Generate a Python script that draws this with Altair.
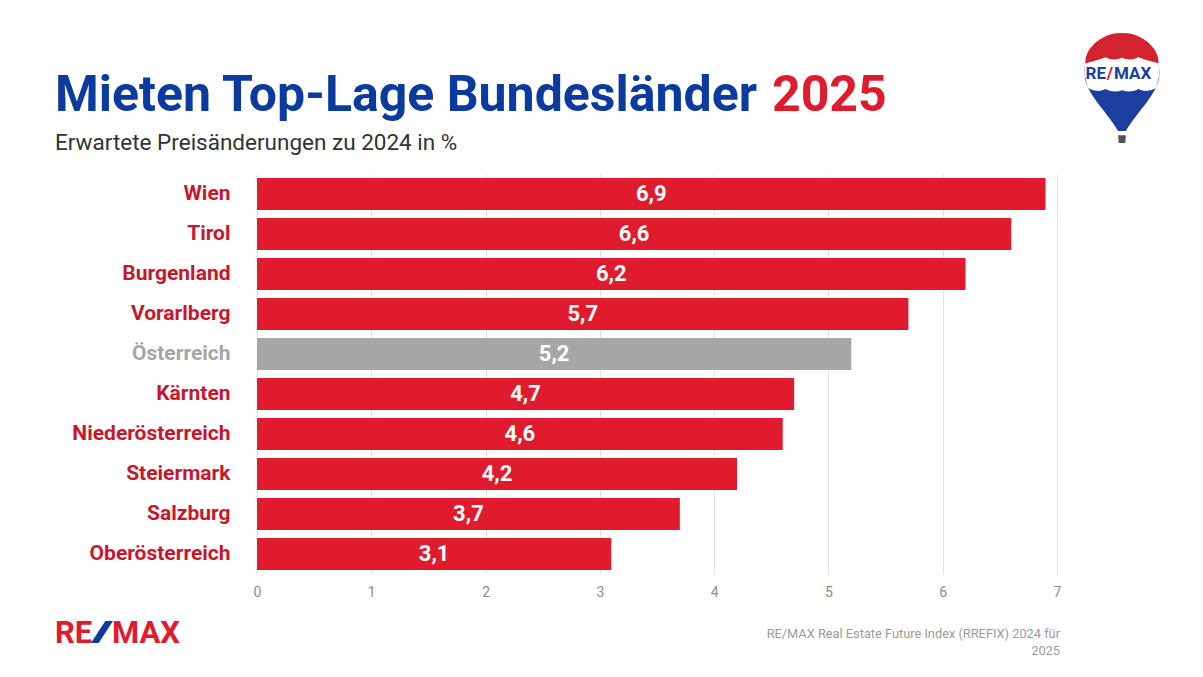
import altair as alt
import pandas as pd

categories = ["Wien", "Tirol", "Burgenland", "Vorarlberg", "Österreich", "Kärnten",
              "Niederösterreich", "Steiermark", "Salzburg", "Oberösterreich"]
values = [6.9, 6.6, 6.2, 5.7, 5.2, 4.7, 4.6, 4.2, 3.7, 3.1]
labels = ["6,9", "6,6", "6,2", "5,7", "5,2", "4,7", "4,6", "4,2", "3,7", "3,1"]
highlight = ["Österreich"]
x_ticks = [0, 1, 2, 3, 4, 5, 6, 7]

title_main = "Mieten Top-Lage Bundesländer"
title_year = "2025"
subtitle = "Erwartete Preisänderungen zu 2024 in %"
source_lines = ["RE/MAX Real Estate Future Index (RREFIX) 2024 für", "2025"]

RED = "#e11b2e"
LABEL_RED = "#c8172d"
GRAY = "#a6a6a6"
BLUE = "#0b3b9e"

df = pd.DataFrame({
    "cat": categories,
    "val": values,
    "lab": labels,
    "grp": ["AT" if c in highlight else "BL" for c in categories],
})
df["half"] = df["val"] / 2

y_enc = alt.Y("cat:N", sort=categories, title=None,
              scale=alt.Scale(paddingInner=0.2, paddingOuter=0.1),
              axis=alt.Axis(labelFont="Roboto", labelFontSize=21, labelFontWeight="bold",
                            labelColor=alt.expr(f"datum.value == '{highlight[0]}' ? '{GRAY}' : '{LABEL_RED}'"),
                            labelPadding=27, ticks=False, domain=False, grid=False))

base = alt.Chart(df)

bars = base.mark_bar().encode(
    x=alt.X("val:Q", scale=alt.Scale(domain=[0, 7], nice=False), title=None,
            axis=alt.Axis(values=x_ticks, format="d", labelFont="Roboto", labelFontSize=14,
                          labelColor="#8c8c8c", grid=True, gridColor="#e2e2e2", labelFlush=False,
                          domain=False, ticks=False, labelPadding=11)),
    y=y_enc,
    color=alt.Color("grp:N", scale=alt.Scale(domain=["BL", "AT"], range=[RED, GRAY]), legend=None),
)

vals = base.mark_text(font="Roboto", fontSize=22, fontWeight="bold", color="white").encode(
    x=alt.X("half:Q"),
    y=alt.Y("cat:N", sort=categories),
    text="lab:N",
)

def txt(s, x, y, size, color, weight="normal", align="left"):
    return alt.Chart(pd.DataFrame({"t": [s]})).mark_text(
        font="Roboto", fontSize=size, fontWeight=weight, color=color,
        align=align, baseline="alphabetic"
    ).encode(text="t:N", x=alt.value(x), y=alt.value(y))

t1 = txt(title_main, -202, -63, 50, BLUE, "bold")
t2 = txt(title_year, 515, -63, 50, RED, "bold")
st = txt(subtitle, -202, -24, 22.5, "#333333")
s1 = txt(source_lines[0], 803, 464, 12.8, "#9a9a9a", align="right")
s2 = txt(source_lines[1], 803, 481, 12.8, "#9a9a9a", align="right")

l1 = txt("RE", -202, 469, 31, RED, "bold")
l3 = txt("MAX", -145, 469, 31, RED, "bold")


def shape(path, color, x, y, size):
    return alt.Chart(pd.DataFrame({"a": [1]})).mark_point(
        shape=path, filled=True, opacity=1, strokeWidth=0, color=color, size=size
    ).encode(x=alt.value(x), y=alt.value(y))

slash_p = "M-1,1 L-0.3,1 L1,-1 L0.3,-1 Z"
l2 = shape(slash_p, "#0b3b9e", -155, -174 + 632, 484)

blue_p = "M0,-1 C0.42,-1 0.7,-0.66 0.68,-0.24 C0.66,0.1 0.3,0.4 0.07,0.78 L-0.07,0.78 C-0.3,0.4 -0.66,0.1 -0.68,-0.24 C-0.7,-0.66 -0.42,-1 0,-1 Z"
white_p = "M0,-1 C0.42,-1 0.7,-0.66 0.68,-0.24 L0.62,0.0 Q0.45,0.1 0.3,0.02 Q0.15,0.1 0,0.04 Q-0.15,0.1 -0.3,0.02 Q-0.45,0.1 -0.62,0.0 L-0.68,-0.24 C-0.7,-0.66 -0.42,-1 0,-1 Z"
red_p = "M0,-1 C0.42,-1 0.7,-0.66 0.66,-0.45 Q0.45,-0.5 0.3,-0.56 Q0.15,-0.48 0,-0.55 Q-0.15,-0.48 -0.3,-0.56 Q-0.45,-0.5 -0.66,-0.45 C-0.7,-0.66 -0.42,-1 0,-1 Z"
basket_p = "M-0.07,0.86 L0.07,0.86 L0.06,1 L-0.06,1 Z"

b1 = shape(blue_p, "#1a3f9e", 865, -86, 12100)
b2 = shape(white_p, "#ffffff", 865, -86, 12100)
b3 = shape(red_p, "#d2232f", 865, -86, 12100)
b4 = shape(basket_p, "#555555", 865, -86, 12100)
bt1 = txt("RE", 849, -95, 17, "#1a3f9e", "bold", "right")
bt2 = txt("/", 853, -95, 17, "#d2232f", "bold", "center")
bt3 = txt("MAX", 857, -95, 17, "#1a3f9e", "bold")

chart = alt.layer(bars, vals, t1, t2, st, s1, s2, l1, l2, l3, b1, b2, b3, b4, bt1, bt2, bt3).properties(
    width=800, height=400,
    autosize=alt.AutoSizeParams(type="none"),
    padding={"left": 249, "top": 166, "right": 138, "bottom": 95},
    background="white",
).configure_view(stroke=None)

chart.save("out.html", embed_options={"renderer": "svg", "actions": False})
